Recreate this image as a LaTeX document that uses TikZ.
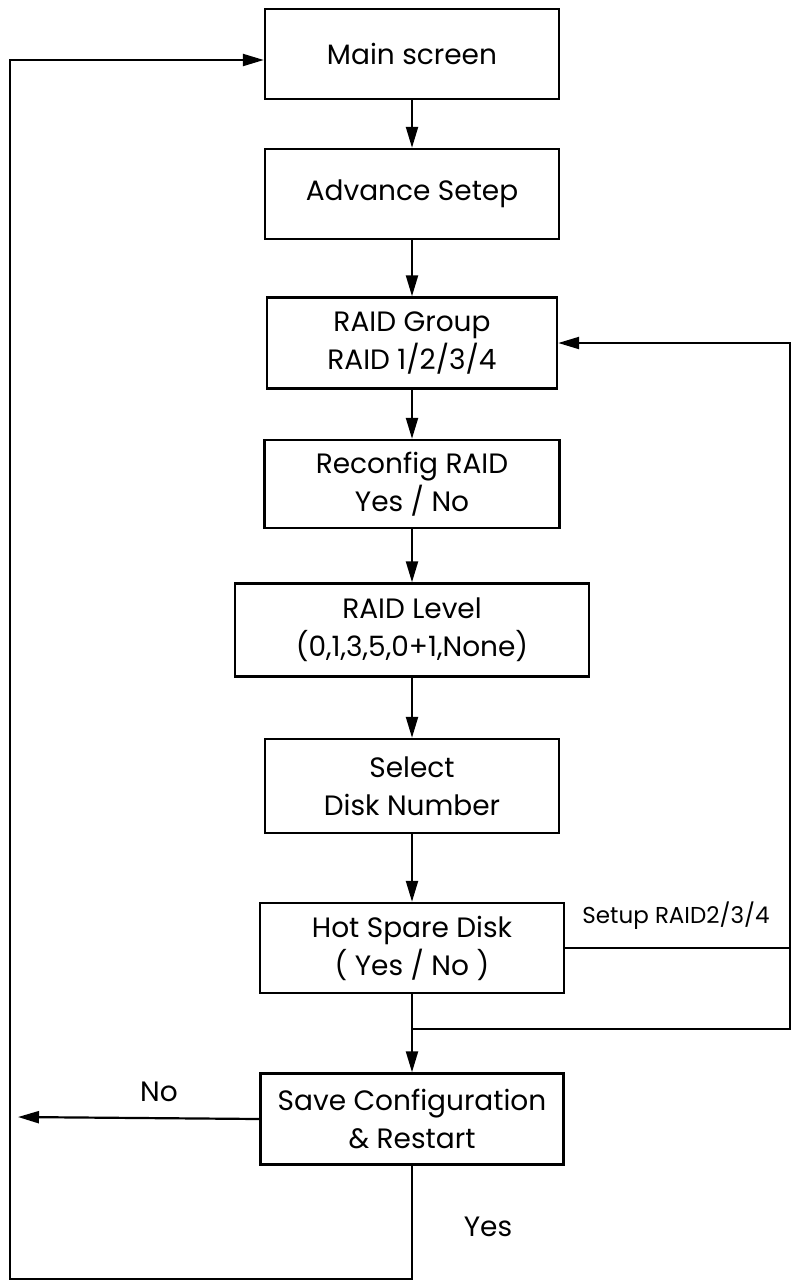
\documentclass[tikz,border=0pt]{standalone}
\usepackage{fontspec}
\setmainfont{Poppins}
\usepackage{tikz}
\usetikzlibrary{arrows.meta,positioning,calc}

\begin{document}
\begin{tikzpicture}[
  x=1pt,y=-1pt,font=\fontsize{28}{38}\selectfont,
  stage/.style={draw=black,line width=2.4pt,align=center,inner sep=0pt,
    minimum height=90pt},
  flow/.style={-{Triangle[length=21pt,width=12pt]},line width=2.2pt},
  wire/.style={line width=2.2pt}
]
\useasboundingbox (0,0) rectangle (796,1282);
\node[stage,minimum width=294pt] (main)  at (412,54)   {Main screen};
\node[stage,minimum width=294pt] (adv)   at (412,194)  {Advance Setep};
\node[stage,minimum width=290pt,minimum height=91pt] (grp) at (412,343) {RAID Group\\ RAID 1/2/3/4};
\node[stage,minimum width=295pt,minimum height=88pt] (recfg) at (412,484) {Reconfig RAID\\ Yes / No};
\node[stage,minimum width=354pt,minimum height=93pt] (lvl) at (412,630) {RAID Level\\ (0,1,3,5,0+1,None)};
\node[stage,minimum width=294pt,minimum height=94pt] (sel) at (412,786) {Select\\ Disk Number};
\node[stage,minimum width=304pt] (spare) at (412,948)  {Hot Spare Disk\\ ( Yes / No )};
\node[stage,minimum width=303pt,minimum height=91pt] (save) at (412,1119) {Save Configuration\\ \& Restart};
\foreach \a/\b in {main/adv,adv/grp,grp/recfg,recfg/lvl,lvl/sel,sel/spare,spare/save}
  \draw[flow] (\a) -- (\b);
% loop back to RAID group
\coordinate (rline) at (790,0);
\coordinate (jn) at (412,1029);
\node[font=\fontsize{23}{28}\selectfont] (setup) at (676,916) {Setup RAID2/3/4};
\draw[flow] (spare.east) -- (spare.east -| rline) |- (grp.east);
\draw[wire] (jn) -| (spare.east -| rline);
% no / yes exits
\coordinate (noend) at (18,1117);
\coordinate (corner) at (10,1279);
\node (no) at (159,1092) {No};
\node (yes) at (488,1227) {Yes};
\draw[flow] (save.west) -- (noend);
\draw[flow] (save.south) |- (corner) |- ([yshift=-6pt]main.west);
\end{tikzpicture}
\end{document}
